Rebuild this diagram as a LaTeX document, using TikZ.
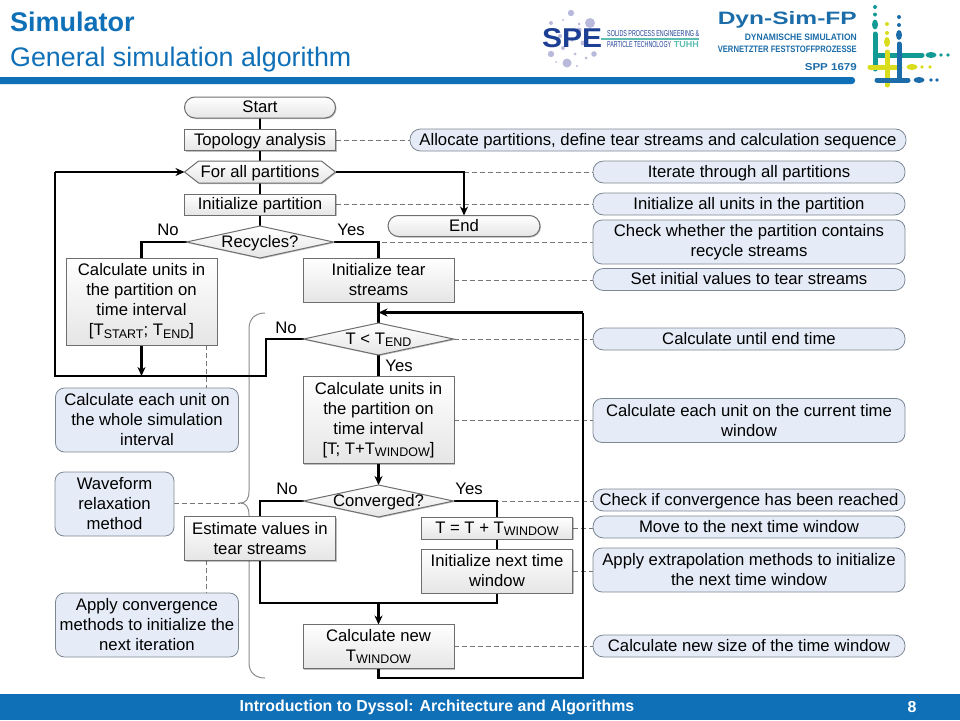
\documentclass[tikz,border=0pt]{standalone}
\usepackage{fontspec}
\usepackage{graphicx}
\setmainfont{Liberation Sans}
\usetikzlibrary{shapes.geometric,shapes.symbols,shapes.misc,shadows,arrows.meta}
\definecolor{bluemain}{HTML}{0F6FB7}
\definecolor{boxedge}{HTML}{6E6E6E}
\definecolor{callfill}{HTML}{E6ECF7}
\definecolor{calledge}{HTML}{7C8794}
\definecolor{bracegrey}{HTML}{8C8C8C}
\definecolor{dashgrey}{HTML}{777777}
\definecolor{spenavy}{HTML}{1C3F94}
\definecolor{speteal}{HTML}{5CBDB0}
\definecolor{bubble}{HTML}{B9B9DC}
\definecolor{dynblue}{HTML}{1B6CA8}
\definecolor{dynteal}{HTML}{129B94}
\definecolor{dynyellow}{HTML}{DADC1E}
\pgfdeclarelayer{bg}
\pgfsetlayers{bg,main}
\newcommand\sbs[1]{\raisebox{-0.3ex}{\fontsize{12.5}{12.5}\selectfont #1}}
\tikzset{
  x=1pt,y=-1pt,
  txt/.style={font=\fontsize{16.7}{20}\selectfont,align=center,inner sep=0pt,outer sep=0pt,text=black},
  oneline/.style={text height=13pt,text depth=3pt},
  base/.style={txt,draw=boxedge,line width=1pt,top color=white,bottom color=black!10,
     drop shadow={shadow xshift=1pt,shadow yshift=-1pt,opacity=.25,fill=black}},
  procbox/.style={base,rectangle,minimum width=151pt},
  termbox/.style={base,oneline,rounded rectangle,minimum width=151pt,minimum height=21pt},
  hexbox/.style={base,oneline,signal,signal to=east and west,signal pointer angle=76,minimum width=151pt,minimum height=22pt},
  decbox/.style={base,oneline,diamond,aspect=4.7,minimum width=150pt,minimum height=32pt},
  callout/.style={txt,draw=calledge,fill=callfill,line width=.8pt,rounded corners=9pt},
  pill/.style={callout,oneline,rounded corners=10.5pt,minimum height=22pt},
  flow/.style={line width=2.5pt,black},
  flowar/.style={flow,-{Stealth[length=9pt,width=8pt]}},
  note/.style={dashgrey,line width=.9pt,dash pattern=on 5pt off 3pt},
  lab/.style={txt},
}
\begin{document}
\begin{tikzpicture}
\useasboundingbox (0,0) rectangle (960,720);
% title
\node[anchor=west,inner sep=0pt,text=bluemain,font=\fontsize{27}{28}\selectfont\bfseries] (title) at (10,22) {Simulator};
\node[anchor=west,inner sep=0pt,text=bluemain,font=\fontsize{26.8}{28}\selectfont] (subtitle) at (10,60) {General simulation algorithm};
\fill[bluemain,rounded corners=3pt] (-5,77) rectangle (855,84);
% footer
\fill[bluemain] (0,694) rectangle (960,720);
\node[inner sep=0pt,text=white,font=\fontsize{15.9}{16}\selectfont\bfseries] (foot) at (437,707) {Introduction to Dyssol: Architecture and Algorithms};
\node[inner sep=0pt,text=white,font=\fontsize{15.9}{16}\selectfont\bfseries] (page) at (912,707) {8};
% SPE logo
\foreach \px/\py/\r in {571/13/3.2,590/23/5,551/23/2,567/63/4.5,551/54/3.2,594/54/2.8,586/58/1.5,579/24/1.5,563/20/1.2,575/54/1.5,563/48/2,577/66/1.2,583/43/2.5,556/62/1,572/40/1.8,579/30/2.5,560/36/2}{
  \fill[bubble] (\px,\py) circle (\r);
}
\node[inner sep=0pt,anchor=west,text=spenavy] (spe) at (542,38) {\resizebox{60pt}{19pt}{\bfseries SPE}};
\fill[speteal] (601,37.5) rectangle (699,39.5);
\node[inner sep=0pt,anchor=west,text=spenavy] (spe1) at (607,33.5) {\resizebox{92pt}{6pt}{SOLIDS PROCESS ENGINEERING \&}};
\node[inner sep=0pt,anchor=west,text=spenavy] (spe2) at (607,45) {\resizebox{64pt}{6pt}{PARTICLE TECHNOLOGY}};
\node[inner sep=0pt,anchor=east,text=speteal] (spe3) at (699,45) {\resizebox{25pt}{6pt}{\bfseries TUHH}};
% Dyn-Sim-FP logo
\node[inner sep=0pt,anchor=east,text=dynblue] (dyn) at (857,20) {\resizebox{139pt}{13pt}{\bfseries Dyn-Sim-FP}};
\node[inner sep=0pt,anchor=east,text=dynblue] (dyn1) at (857,37) {\resizebox{112pt}{6.5pt}{\bfseries DYNAMISCHE SIMULATION}};
\node[inner sep=0pt,anchor=east,text=dynblue] (dyn2) at (857,49.5) {\resizebox{139pt}{6.5pt}{\bfseries VERNETZTER FESTSTOFFPROZESSE}};
\node[inner sep=0pt,anchor=east,text=dynblue] (dyn3) at (857,67) {\resizebox{52pt}{7pt}{\bfseries SPP 1679}};
% plus graphic
\begin{scope}[line cap=round,line width=5pt]
\draw[dynteal] (875,34) -- (875,69) (878,55) -- (922,55);
\fill[dynteal] (875,24.5) ellipse (3pt and 5pt) (875,14.5) circle (2pt) (875,7) circle (2pt) (931,55) ellipse (5.5pt and 3pt) (941,55) circle (1.8pt) (948,55) circle (1.8pt);
\draw[dynyellow] (887,52) -- (887,85) (870,67) -- (900,67);
\fill[dynyellow] (887,42) ellipse (3pt and 5pt) (887,33) circle (2pt) (887,24) circle (2pt) (912,67) ellipse (5.5pt and 3pt) (922,67) circle (1.8pt) (930,67) circle (1.8pt);
\draw[dynblue] (899,44) -- (899,80) (877,80) -- (908,80);
\fill[dynblue] (899,35) ellipse (3pt and 5pt) (899,25) circle (2pt) (899,17) circle (2pt) (919,80) ellipse (5.5pt and 3pt) (931,80) circle (1.8pt) (937,80) circle (1.8pt);
\end{scope}
% flow nodes
\node[termbox] (start) at (260,107.5) {Start};
\node[procbox,oneline,minimum height=21pt] (topo) at (260,140) {Topology analysis};
\node[hexbox] (forall) at (260,172) {For all partitions};
\node[procbox,oneline,minimum height=21pt] (initp) at (260,204.5) {Initialize partition};
\node[decbox,minimum width=147pt] (rec) at (260,242) {\makebox[30pt]{Recycles?}};
\node[termbox,minimum width=152pt] (endn) at (464,226) {End};
\node[procbox,minimum height=87pt] (calcl) at (141.5,301.5) {Calculate units in\\the partition on\\time interval\\{}[T\sbs{START}; T\sbs{END}]};
\node[procbox,minimum height=44pt] (tear) at (378.5,280) {Initialize tear\\streams};
\node[decbox] (tl) at (378.5,339) {\makebox[30pt]{T < T\sbs{END}}};
\node[procbox,minimum height=87pt] (calcm) at (378.5,420) {Calculate units in\\the partition on\\time interval\\{}[T; T+T\sbs{WINDOW}]};
\node[decbox] (conv) at (378.5,501) {\makebox[30pt]{Converged?}};
\node[procbox,minimum height=44pt] (est) at (260,538.5) {Estimate values in\\tear streams};
\node[procbox,oneline,minimum height=22pt] (tt) at (497,528) {T = T + T\sbs{WINDOW}};
\node[procbox,minimum height=44pt] (initn) at (497,571) {Initialize next time\\window};
\node[procbox,minimum height=44pt] (newt) at (378.5,646.5) {Calculate new\\T\sbs{WINDOW}};
% labels
\node[lab] (l1) at (168,230) {No};
\node[lab] (l2) at (351,230) {Yes};
\node[lab] (l3) at (286,328) {No};
\node[lab] (l4) at (399,366) {Yes};
\node[lab] (l5) at (287,489) {No};
\node[lab] (l6) at (469,489) {Yes};
% callouts right
\node[pill,minimum width=496pt] (c1) at (658,140) {Allocate partitions, define tear streams and calculation sequence};
\node[pill,minimum width=312pt] (c2) at (749,172) {Iterate through all partitions};
\node[pill,minimum width=312pt] (c3) at (749,204) {Initialize all units in the partition};
\node[callout,minimum width=312pt,minimum height=44pt] (c4) at (749,242) {Check whether the partition contains\\recycle streams};
\node[pill,minimum width=312pt] (c5) at (749,279.5) {Set initial values to tear streams};
\node[pill,minimum width=312pt] (c6) at (749,339) {Calculate until end time};
\node[callout,minimum width=312pt,minimum height=44pt] (c7) at (749,420.5) {Calculate each unit on the current time\\window};
\node[pill,minimum width=312pt] (c8) at (749,500) {Check if convergence has been reached};
\node[pill,minimum width=312pt] (c9) at (749,527) {Move to the next time window};
\node[callout,minimum width=312pt,minimum height=44pt] (c10) at (749,570) {Apply extrapolation methods to initialize\\the next time window};
\node[pill,minimum width=312pt] (c11) at (749,646) {Calculate new size of the time window};
% callouts left
\node[callout,minimum width=183pt,minimum height=64pt] (d1) at (147,420) {Calculate each unit on\\the whole simulation\\interval};
\node[callout,minimum width=119pt,minimum height=64pt] (d2) at (114.5,504) {Waveform\\relaxation\\method};
\node[callout,minimum width=183pt,minimum height=64pt] (d3) at (147,625) {Apply convergence\\methods to initialize the\\next iteration};
% helper points
\coordinate (tip) at (240,503);
\coordinate (nb1) at (266,339);
\coordinate (nb2) at (266,376);
\coordinate (nb3) at (55,376);
\coordinate (nb4) at (55,172);
\coordinate (nbj) at (141.5,376);
\coordinate (fr) at (464,172);
\coordinate (bus) at (378.5,603);
\coordinate (retb) at (583,678);
\coordinate (rett) at (583,312.5);
\coordinate (retj) at (378.5,312.5);
\coordinate (tap1) at (206,345);
\coordinate (tap2) at (206,560);
\begin{pgfonlayer}{bg}
% brace
\draw[bracegrey,line width=1pt] (265,313) .. controls (255,313) and (249,319) .. (249,329) -- (249,491)
   .. controls (249,499) and (246,503) .. (tip) .. controls (246,503) and (249,507) .. (249,515) -- (249,663)
   .. controls (249,672) and (255,678) .. (265,678);
% dashed notes
\draw[note] (topo.east) -- (topo.east -| c1.west);
\draw[note] (fr) -- (c2.west);
\draw[note] (initp.east) -- (initp.east -| c3.west);
\draw[note] (rec.east) -- (c4.west);
\draw[note] (tear.east) -- (tear.east -| c5.west);
\draw[note] (tl.east) -- (c6.west);
\draw[note] (calcm.east) -- (calcm.east -| c7.west);
\draw[note] (conv.east) -- (conv.east -| c8.west);
\draw[note] (tt.east) -- (tt.east -| c9.west);
\draw[note] (initn.east) -- (initn.east -| c10.west);
\draw[note] (newt.east) -- (newt.east -| c11.west);
\draw[note] (d2.east |- tip) -- (tip);
\draw[note] (tap1) -- (tap1 |- d1.north);
\draw[note] (tap2) -- (tap2 |- d3.north);
% flows
\draw[flow] (start) -- (topo);
\draw[flow] (topo) -- (forall);
\draw[flow] (forall) -- (initp);
\draw[flow] (initp) -- (rec);
\draw[flow] (rec.west) -| (calcl.north);
\draw[flow] (rec.east) -| (tear.north);
\draw[flowar] (forall.east) -| (endn.north);
\draw[flow] (tl.west) -- (nb1) -- (nb2) -- (nb3) -- (nb4);
\draw[flowar] (nb4) -- (forall.west);
\draw[flowar] (calcl.south) -- (nbj);
\draw[flow] (tear) -- (tl);
\draw[flow] (tl) -- (calcm);
\draw[flowar] (calcm) -- (conv);
\draw[flow] (conv.west) -| (est.north);
\draw[flow] (conv.east) -| (tt.north);
\draw[flow] (tt) -- (initn);
\draw[flow] (est.south) |- (bus);
\draw[flow] (initn.south) |- (bus);
\draw[flowar] (bus) -- (newt.north);
\draw[flow] (newt.south) |- (retb) -- (rett);
\draw[flowar] (rett) -- (retj);
\end{pgfonlayer}
\end{tikzpicture}
\end{document}
